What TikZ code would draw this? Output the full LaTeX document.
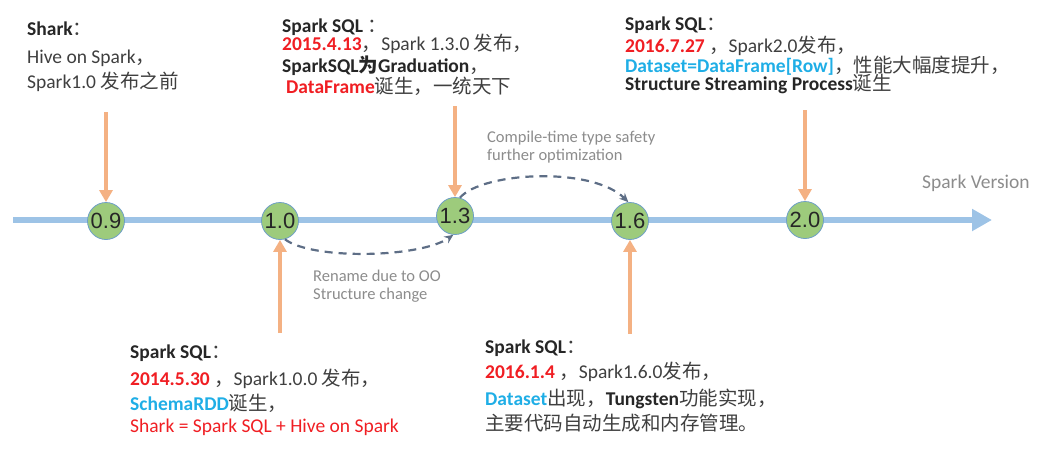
\documentclass[tikz,border=0pt]{standalone}
\usepackage{fontspec}
\setmainfont{Carlito}
\newfontfamily\zhfont{Noto Sans CJK SC}
\newfontfamily\numfont{Liberation Sans}
\newcommand\zhtxt[1]{{\zhfont #1}}
\usetikzlibrary{arrows.meta}
\definecolor{axisblue}{HTML}{9DC3E6}
\definecolor{vergreen}{HTML}{9DCB7C}
\definecolor{verborder}{HTML}{6E9FC6}
\definecolor{orangeA}{HTML}{F4B183}
\definecolor{dashgray}{HTML}{5E6E86}
\definecolor{redT}{HTML}{F01E23}
\definecolor{blueT}{HTML}{1FAEE6}
\definecolor{darkT}{HTML}{262626}
\definecolor{regT}{HTML}{3F3F3F}
\definecolor{labelgray}{HTML}{8C8C8C}
\tikzset{
  txt/.style={anchor=base west, inner sep=0pt, font=\fontsize{19.5}{22}\selectfont, text=regT},
  note/.style={anchor=base west, inner sep=0pt, font=\fontsize{16.5}{18}\selectfont, text=labelgray},
  ver/.style={circle, minimum size=37pt, inner sep=0pt, fill=vergreen, draw=verborder, line width=0.8pt, font=\numfont\fontsize{22}{23}\selectfont, text=darkT},
  axisline/.style={draw=axisblue, line width=6pt, -{Triangle[length=20pt,width=21pt]}},
  orangearrow/.style={draw=orangeA, line width=3.5pt, -{Triangle[length=12pt,width=13pt]}},
  dasharrow/.style={draw=dashgray, line width=2.2pt, dash pattern=on 8pt off 6pt, -{Stealth[length=9pt,width=8pt]}}
}
\begin{document}
\begin{tikzpicture}[x=1pt,y=-1pt]
\useasboundingbox (0,0) rectangle (1045,453);
% timeline
\coordinate (tstart) at (13,220);
\coordinate (tend) at (992,220);
\draw[axisline] (tstart) -- (tend);
\node[anchor=base west, inner sep=0pt, font=\fontsize{19.5}{22}\selectfont, text=labelgray] (sv) at (922,188) {Spark Version};
% version circles
\node[ver] (v09) at (106,221) {0.9};
\node[ver] (v10) at (280,221) {1.0};
\node[ver] (v13) at (455,216) {1.3};
\node[ver] (v16) at (630,221) {1.6};
\node[ver] (v20) at (805,220) {2.0};
% orange arrows
\coordinate (o09) at (106,112);
\coordinate (o13) at (455,106);
\coordinate (o20) at (805,110);
\coordinate (o10) at (280,333);
\coordinate (o16) at (630,334);
\draw[orangearrow] (o09) -- (v09);
\draw[orangearrow] (o13) -- (v13);
\draw[orangearrow] (o20) -- (v20);
\draw[orangearrow] (o10) -- (v10);
\draw[orangearrow] (o16) -- (v16);
% dashed transitions
\draw[dasharrow] (v10.-75) .. controls (312,260) and (420,258) .. (v13.-95);
\draw[dasharrow] (v13.75) .. controls (482,172) and (592,166) .. (v16.95);
\node[note] (n1a) at (487,142) {Compile-time type safety};
\node[note] (n1b) at (487,160) {further optimization};
\node[note] (n2a) at (313,281) {Rename due to OO};
\node[note] (n2b) at (313,299) {Structure change};
% block A
\node[txt] (a1) at (27,35) {\textbf{\color{darkT}Shark}\zhtxt{：}};
\node[txt] (a2) at (27,63) {Hive on Spark\zhtxt{，}};
\node[txt] (a3) at (27,88) {Spark1.0 \zhtxt{发布之前}};
% block B
\node[txt] (b1) at (282,32) {\textbf{\color{darkT}Spark SQL }\zhtxt{：}};
\node[txt] (b2) at (282,50) {\textbf{\color{redT}2015.4.13}\zhtxt{，}Spark 1.3.0 \zhtxt{发布，}};
\node[txt] (b3) at (282,72) {\textbf{\color{darkT}SparkSQL\zhtxt{为}Graduation}\zhtxt{，}};
\node[txt] (b4) at (286,93) {\textbf{\color{redT}DataFrame}\zhtxt{诞生，一统天下}};
% block C
\node[txt] (c1) at (625,30) {\textbf{\color{darkT}Spark SQL}\zhtxt{：}};
\node[txt] (c2) at (625,52) {\textbf{\color{redT}2016.7.27} \zhtxt{，}Spark2.0\zhtxt{发布，}};
\node[txt] (c3) at (625,72) {\textbf{\color{blueT}Dataset=DataFrame[Row]}\zhtxt{，性能大幅度提升，}};
\node[txt] (c4) at (625,90) {\textbf{\color{darkT}Structure Streaming Process}\zhtxt{诞生}};
% block D
\node[txt] (d1) at (130,358) {\textbf{\color{darkT}Spark SQL}\zhtxt{：}};
\node[txt] (d2) at (130,385) {\textbf{\color{redT}2014.5.30} \zhtxt{，}Spark1.0.0 \zhtxt{发布，}};
\node[txt] (d3) at (130,410) {\textbf{\color{blueT}SchemaRDD}\zhtxt{诞生，}};
\node[txt, text=redT] (d4) at (130,432) {Shark = Spark SQL + Hive on Spark};
% block E
\node[txt] (e1) at (485,353) {\textbf{\color{darkT}Spark SQL}\zhtxt{：}};
\node[txt] (e2) at (485,378) {\textbf{\color{redT}2016.1.4} \zhtxt{，}Spark1.6.0\zhtxt{发布，}};
\node[txt] (e3) at (485,405) {\textbf{\color{blueT}Dataset}\zhtxt{出现，}\textbf{\color{darkT}Tungsten}\zhtxt{功能实现，}};
\node[txt] (e4) at (485,430) {\zhtxt{主要代码自动生成和内存管理。}};
\end{tikzpicture}
\end{document}
